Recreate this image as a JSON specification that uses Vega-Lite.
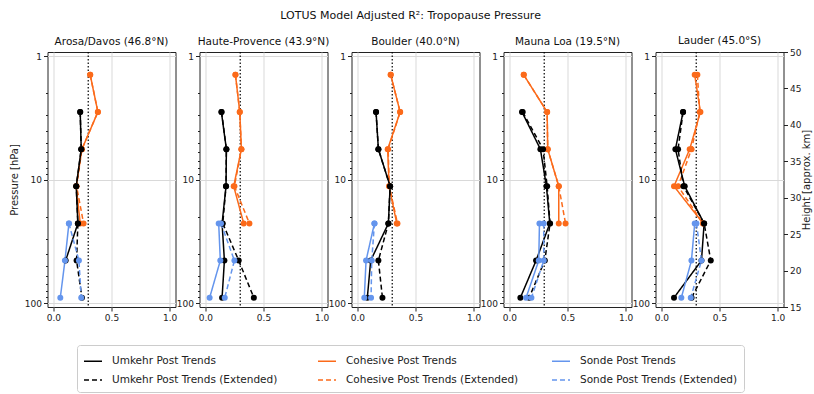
{
  "$schema": "https://vega.github.io/schema/vega-lite/v6.json",
  "background": "white",
  "padding": {"left": 8.5, "top": 9, "right": 5, "bottom": 5},
  "title": {"text": "LOTUS Model Adjusted R²: Tropopause Pressure", "fontSize": 11, "font": "DejaVu Sans", "fontWeight": "normal", "anchor": "middle", "offset": 15, "color": "#111"},
  "config": {
    "font": "DejaVu Sans",
    "view": {"stroke": "#222", "strokeWidth": 1},
    "axis": {"domain": false, "labelFont": "DejaVu Sans", "labelFontSize": 9, "labelColor": "#222", "tickColor": "#222", "titleFont": "DejaVu Sans", "titleFontSize": 10, "titleFontWeight": "normal", "titleColor": "#222", "gridColor": "#d9d9d9", "gridWidth": 1},
    "title": {"font": "DejaVu Sans", "fontSize": 10.5, "fontWeight": "normal", "color": "#111", "offset": 4},
    "legend": {"labelFont": "DejaVu Sans", "labelFontSize": 10.5, "labelColor": "#222"}
  },
  "datasets": {
    "d": [
      {"st": "A", "s": "Cohesive Post Trends", "p": 1.414, "x": 0.317},
      {"st": "A", "s": "Cohesive Post Trends", "p": 2.828, "x": 0.383},
      {"st": "A", "s": "Cohesive Post Trends", "p": 5.657, "x": 0.246},
      {"st": "A", "s": "Cohesive Post Trends", "p": 11.31, "x": 0.197},
      {"st": "A", "s": "Cohesive Post Trends", "p": 22.63, "x": 0.231},
      {"st": "A", "s": "Cohesive Post Trends (Extended)", "p": 1.414, "x": 0.317},
      {"st": "A", "s": "Cohesive Post Trends (Extended)", "p": 2.828, "x": 0.383},
      {"st": "A", "s": "Cohesive Post Trends (Extended)", "p": 5.657, "x": 0.246},
      {"st": "A", "s": "Cohesive Post Trends (Extended)", "p": 11.31, "x": 0.2},
      {"st": "A", "s": "Cohesive Post Trends (Extended)", "p": 22.63, "x": 0.26},
      {"st": "A", "s": "Umkehr Post Trends", "p": 2.828, "x": 0.231},
      {"st": "A", "s": "Umkehr Post Trends", "p": 5.657, "x": 0.24},
      {"st": "A", "s": "Umkehr Post Trends", "p": 11.31, "x": 0.197},
      {"st": "A", "s": "Umkehr Post Trends", "p": 22.63, "x": 0.211},
      {"st": "A", "s": "Umkehr Post Trends", "p": 45.25, "x": 0.106},
      {"st": "A", "s": "Umkehr Post Trends (Extended)", "p": 2.828, "x": 0.231},
      {"st": "A", "s": "Umkehr Post Trends (Extended)", "p": 5.657, "x": 0.24},
      {"st": "A", "s": "Umkehr Post Trends (Extended)", "p": 11.31, "x": 0.197},
      {"st": "A", "s": "Umkehr Post Trends (Extended)", "p": 22.63, "x": 0.211},
      {"st": "A", "s": "Umkehr Post Trends (Extended)", "p": 45.25, "x": 0.2},
      {"st": "A", "s": "Umkehr Post Trends (Extended)", "p": 90.51, "x": 0.246},
      {"st": "A", "s": "Sonde Post Trends", "p": 22.63, "x": 0.134},
      {"st": "A", "s": "Sonde Post Trends", "p": 45.25, "x": 0.1},
      {"st": "A", "s": "Sonde Post Trends", "p": 90.51, "x": 0.06},
      {"st": "A", "s": "Sonde Post Trends (Extended)", "p": 22.63, "x": 0.134},
      {"st": "A", "s": "Sonde Post Trends (Extended)", "p": 45.25, "x": 0.22},
      {"st": "A", "s": "Sonde Post Trends (Extended)", "p": 90.51, "x": 0.24},

      {"st": "H", "s": "Cohesive Post Trends", "p": 1.414, "x": 0.259},
      {"st": "H", "s": "Cohesive Post Trends", "p": 2.828, "x": 0.296},
      {"st": "H", "s": "Cohesive Post Trends", "p": 5.657, "x": 0.31},
      {"st": "H", "s": "Cohesive Post Trends", "p": 11.31, "x": 0.244},
      {"st": "H", "s": "Cohesive Post Trends", "p": 22.63, "x": 0.33},
      {"st": "H", "s": "Cohesive Post Trends (Extended)", "p": 1.414, "x": 0.259},
      {"st": "H", "s": "Cohesive Post Trends (Extended)", "p": 2.828, "x": 0.296},
      {"st": "H", "s": "Cohesive Post Trends (Extended)", "p": 5.657, "x": 0.31},
      {"st": "H", "s": "Cohesive Post Trends (Extended)", "p": 11.31, "x": 0.25},
      {"st": "H", "s": "Cohesive Post Trends (Extended)", "p": 22.63, "x": 0.379},
      {"st": "H", "s": "Umkehr Post Trends", "p": 2.828, "x": 0.138},
      {"st": "H", "s": "Umkehr Post Trends", "p": 5.657, "x": 0.181},
      {"st": "H", "s": "Umkehr Post Trends", "p": 11.31, "x": 0.178},
      {"st": "H", "s": "Umkehr Post Trends", "p": 22.63, "x": 0.144},
      {"st": "H", "s": "Umkehr Post Trends", "p": 45.25, "x": 0.164},
      {"st": "H", "s": "Umkehr Post Trends", "p": 90.51, "x": 0.144},
      {"st": "H", "s": "Umkehr Post Trends (Extended)", "p": 2.828, "x": 0.14},
      {"st": "H", "s": "Umkehr Post Trends (Extended)", "p": 5.657, "x": 0.181},
      {"st": "H", "s": "Umkehr Post Trends (Extended)", "p": 11.31, "x": 0.178},
      {"st": "H", "s": "Umkehr Post Trends (Extended)", "p": 22.63, "x": 0.15},
      {"st": "H", "s": "Umkehr Post Trends (Extended)", "p": 45.25, "x": 0.287},
      {"st": "H", "s": "Umkehr Post Trends (Extended)", "p": 90.51, "x": 0.417},
      {"st": "H", "s": "Sonde Post Trends", "p": 22.63, "x": 0.115},
      {"st": "H", "s": "Sonde Post Trends", "p": 45.25, "x": 0.129},
      {"st": "H", "s": "Sonde Post Trends", "p": 90.51, "x": 0.037},
      {"st": "H", "s": "Sonde Post Trends (Extended)", "p": 22.63, "x": 0.135},
      {"st": "H", "s": "Sonde Post Trends (Extended)", "p": 45.25, "x": 0.25},
      {"st": "H", "s": "Sonde Post Trends (Extended)", "p": 90.51, "x": 0.167},

      {"st": "B", "s": "Cohesive Post Trends", "p": 1.414, "x": 0.287},
      {"st": "B", "s": "Cohesive Post Trends", "p": 2.828, "x": 0.368},
      {"st": "B", "s": "Cohesive Post Trends", "p": 5.657, "x": 0.261},
      {"st": "B", "s": "Cohesive Post Trends", "p": 11.31, "x": 0.273},
      {"st": "B", "s": "Cohesive Post Trends", "p": 22.63, "x": 0.339},
      {"st": "B", "s": "Cohesive Post Trends (Extended)", "p": 1.414, "x": 0.287},
      {"st": "B", "s": "Cohesive Post Trends (Extended)", "p": 2.828, "x": 0.368},
      {"st": "B", "s": "Cohesive Post Trends (Extended)", "p": 5.657, "x": 0.265},
      {"st": "B", "s": "Cohesive Post Trends (Extended)", "p": 11.31, "x": 0.275},
      {"st": "B", "s": "Cohesive Post Trends (Extended)", "p": 22.63, "x": 0.345},
      {"st": "B", "s": "Umkehr Post Trends", "p": 2.828, "x": 0.161},
      {"st": "B", "s": "Umkehr Post Trends", "p": 5.657, "x": 0.181},
      {"st": "B", "s": "Umkehr Post Trends", "p": 11.31, "x": 0.282},
      {"st": "B", "s": "Umkehr Post Trends", "p": 22.63, "x": 0.267},
      {"st": "B", "s": "Umkehr Post Trends", "p": 45.25, "x": 0.115},
      {"st": "B", "s": "Umkehr Post Trends", "p": 90.51, "x": 0.086},
      {"st": "B", "s": "Umkehr Post Trends (Extended)", "p": 2.828, "x": 0.161},
      {"st": "B", "s": "Umkehr Post Trends (Extended)", "p": 5.657, "x": 0.181},
      {"st": "B", "s": "Umkehr Post Trends (Extended)", "p": 11.31, "x": 0.282},
      {"st": "B", "s": "Umkehr Post Trends (Extended)", "p": 22.63, "x": 0.267},
      {"st": "B", "s": "Umkehr Post Trends (Extended)", "p": 45.25, "x": 0.181},
      {"st": "B", "s": "Umkehr Post Trends (Extended)", "p": 90.51, "x": 0.216},
      {"st": "B", "s": "Sonde Post Trends", "p": 22.63, "x": 0.147},
      {"st": "B", "s": "Sonde Post Trends", "p": 45.25, "x": 0.075},
      {"st": "B", "s": "Sonde Post Trends", "p": 90.51, "x": 0.06},
      {"st": "B", "s": "Sonde Post Trends (Extended)", "p": 22.63, "x": 0.147},
      {"st": "B", "s": "Sonde Post Trends (Extended)", "p": 45.25, "x": 0.124},
      {"st": "B", "s": "Sonde Post Trends (Extended)", "p": 90.51, "x": 0.118},

      {"st": "M", "s": "Cohesive Post Trends", "p": 1.414, "x": 0.124},
      {"st": "M", "s": "Cohesive Post Trends", "p": 2.828, "x": 0.325},
      {"st": "M", "s": "Cohesive Post Trends", "p": 5.657, "x": 0.33},
      {"st": "M", "s": "Cohesive Post Trends", "p": 11.31, "x": 0.425},
      {"st": "M", "s": "Cohesive Post Trends", "p": 22.63, "x": 0.425},
      {"st": "M", "s": "Cohesive Post Trends (Extended)", "p": 1.414, "x": 0.124},
      {"st": "M", "s": "Cohesive Post Trends (Extended)", "p": 2.828, "x": 0.325},
      {"st": "M", "s": "Cohesive Post Trends (Extended)", "p": 5.657, "x": 0.33},
      {"st": "M", "s": "Cohesive Post Trends (Extended)", "p": 11.31, "x": 0.425},
      {"st": "M", "s": "Cohesive Post Trends (Extended)", "p": 22.63, "x": 0.483},
      {"st": "M", "s": "Umkehr Post Trends", "p": 2.828, "x": 0.109},
      {"st": "M", "s": "Umkehr Post Trends", "p": 5.657, "x": 0.267},
      {"st": "M", "s": "Umkehr Post Trends", "p": 11.31, "x": 0.319},
      {"st": "M", "s": "Umkehr Post Trends", "p": 22.63, "x": 0.348},
      {"st": "M", "s": "Umkehr Post Trends", "p": 45.25, "x": 0.23},
      {"st": "M", "s": "Umkehr Post Trends", "p": 90.51, "x": 0.095},
      {"st": "M", "s": "Umkehr Post Trends (Extended)", "p": 2.828, "x": 0.115},
      {"st": "M", "s": "Umkehr Post Trends (Extended)", "p": 5.657, "x": 0.29},
      {"st": "M", "s": "Umkehr Post Trends (Extended)", "p": 11.31, "x": 0.325},
      {"st": "M", "s": "Umkehr Post Trends (Extended)", "p": 22.63, "x": 0.35},
      {"st": "M", "s": "Umkehr Post Trends (Extended)", "p": 45.25, "x": 0.305},
      {"st": "M", "s": "Umkehr Post Trends (Extended)", "p": 90.51, "x": 0.17},
      {"st": "M", "s": "Sonde Post Trends", "p": 22.63, "x": 0.259},
      {"st": "M", "s": "Sonde Post Trends", "p": 45.25, "x": 0.253},
      {"st": "M", "s": "Sonde Post Trends", "p": 90.51, "x": 0.144},
      {"st": "M", "s": "Sonde Post Trends (Extended)", "p": 22.63, "x": 0.296},
      {"st": "M", "s": "Sonde Post Trends (Extended)", "p": 45.25, "x": 0.296},
      {"st": "M", "s": "Sonde Post Trends (Extended)", "p": 90.51, "x": 0.19},

      {"st": "L", "s": "Cohesive Post Trends", "p": 1.414, "x": 0.287},
      {"st": "L", "s": "Cohesive Post Trends", "p": 2.828, "x": 0.336},
      {"st": "L", "s": "Cohesive Post Trends", "p": 5.657, "x": 0.244},
      {"st": "L", "s": "Cohesive Post Trends", "p": 11.31, "x": 0.109},
      {"st": "L", "s": "Cohesive Post Trends", "p": 22.63, "x": 0.359},
      {"st": "L", "s": "Cohesive Post Trends (Extended)", "p": 1.414, "x": 0.31},
      {"st": "L", "s": "Cohesive Post Trends (Extended)", "p": 2.828, "x": 0.33},
      {"st": "L", "s": "Cohesive Post Trends (Extended)", "p": 5.657, "x": 0.26},
      {"st": "L", "s": "Cohesive Post Trends (Extended)", "p": 11.31, "x": 0.144},
      {"st": "L", "s": "Cohesive Post Trends (Extended)", "p": 22.63, "x": 0.359},
      {"st": "L", "s": "Umkehr Post Trends", "p": 2.828, "x": 0.187},
      {"st": "L", "s": "Umkehr Post Trends", "p": 5.657, "x": 0.121},
      {"st": "L", "s": "Umkehr Post Trends", "p": 11.31, "x": 0.201},
      {"st": "L", "s": "Umkehr Post Trends", "p": 22.63, "x": 0.368},
      {"st": "L", "s": "Umkehr Post Trends", "p": 45.25, "x": 0.345},
      {"st": "L", "s": "Umkehr Post Trends", "p": 90.51, "x": 0.109},
      {"st": "L", "s": "Umkehr Post Trends (Extended)", "p": 2.828, "x": 0.187},
      {"st": "L", "s": "Umkehr Post Trends (Extended)", "p": 5.657, "x": 0.144},
      {"st": "L", "s": "Umkehr Post Trends (Extended)", "p": 11.31, "x": 0.19},
      {"st": "L", "s": "Umkehr Post Trends (Extended)", "p": 22.63, "x": 0.368},
      {"st": "L", "s": "Umkehr Post Trends (Extended)", "p": 45.25, "x": 0.425},
      {"st": "L", "s": "Umkehr Post Trends (Extended)", "p": 90.51, "x": 0.26},
      {"st": "L", "s": "Sonde Post Trends", "p": 22.63, "x": 0.287},
      {"st": "L", "s": "Sonde Post Trends", "p": 45.25, "x": 0.259},
      {"st": "L", "s": "Sonde Post Trends", "p": 90.51, "x": 0.172},
      {"st": "L", "s": "Sonde Post Trends (Extended)", "p": 22.63, "x": 0.302},
      {"st": "L", "s": "Sonde Post Trends (Extended)", "p": 45.25, "x": 0.345},
      {"st": "L", "s": "Sonde Post Trends (Extended)", "p": 90.51, "x": 0.253}
    ]
  },
  "bounds": "flush",
  "spacing": 24,
  "resolve": {"scale": {"x": "independent", "y": "independent", "color": "shared", "strokeDash": "shared"}, "legend": {"color": "shared", "strokeDash": "shared"}},
  "hconcat": [
    {
      "width": 128, "height": 255,
      "title": "Arosa/Davos (46.8°N)",
      "layer": [
        {"data": {"values": [{"v": 0.3}]}, "mark": {"type": "rule", "color": "black", "strokeDash": [1.5, 2], "strokeWidth": 1.2}, "encoding": {"x": {"field": "v", "type": "quantitative", "scale": {"domain": [-0.05, 1.05], "nice": false, "zero": false}, "axis": {"values": [0, 0.5, 1], "format": ".1f", "title": null, "grid": true, "tickSize": 4, "labelPadding": 2}}}},
        {"data": {"name": "d"}, "transform": [{"filter": "datum.st == 'A'"}], "mark": {"type": "line", "strokeWidth": 1.5}, "encoding": {
          "x": {"field": "x", "type": "quantitative"},
          "y": {"field": "p", "type": "quantitative", "scale": {"type": "log", "domain": [0.923, 107.7], "reverse": true, "nice": false, "zero": false}, "axis": {"title": "Pressure [hPa]", "titlePadding": 5, "values": [1, 2, 3, 4, 5, 6, 7, 8, 9, 10, 20, 30, 40, 50, 60, 70, 80, 90, 100], "labelExpr": "indexof([1, 10, 100], datum.value) >= 0 ? toString(datum.value) : ''", "tickSize": {"condition": {"test": "indexof([1, 10, 100], datum.value) >= 0", "value": 4}, "value": 2}, "gridOpacity": {"condition": {"test": "indexof([1, 10, 100], datum.value) >= 0", "value": 1}, "value": 0}, "labelPadding": 2}},
          "order": {"field": "p", "type": "quantitative"},
          "color": {"field": "s", "type": "nominal", "scale": {"domain": ["Umkehr Post Trends", "Umkehr Post Trends (Extended)", "Cohesive Post Trends", "Cohesive Post Trends (Extended)", "Sonde Post Trends", "Sonde Post Trends (Extended)"], "range": ["#000000", "#000000", "#fb6a1a", "#fb6a1a", "#6495ed", "#6495ed"]},
            "legend": {"orient": "none", "legendX": 29.5, "legendY": 293, "direction": "vertical", "columns": 3, "gridAlign": "all", "columnPadding": 30, "rowPadding": 3, "padding": 6, "strokeColor": "#cccccc", "cornerRadius": 3, "fillColor": "white", "symbolType": "stroke", "symbolSize": 324, "symbolStrokeWidth": 1.5, "labelOffset": 9, "labelFontSize": 10.5, "labelLimit": 300, "title": null}},
          "strokeDash": {"field": "s", "type": "nominal", "scale": {"domain": ["Umkehr Post Trends", "Umkehr Post Trends (Extended)", "Cohesive Post Trends", "Cohesive Post Trends (Extended)", "Sonde Post Trends", "Sonde Post Trends (Extended)"], "range": [[1, 0], [5, 3], [1, 0], [5, 3], [1, 0], [5, 3]]},
            "legend": {"orient": "none", "legendX": 29.5, "legendY": 293, "direction": "vertical", "columns": 3, "gridAlign": "all", "columnPadding": 30, "rowPadding": 3, "padding": 6, "strokeColor": "#cccccc", "cornerRadius": 3, "fillColor": "white", "symbolType": "stroke", "symbolSize": 324, "symbolStrokeWidth": 1.5, "labelOffset": 9, "labelFontSize": 10.5, "labelLimit": 300, "title": null}}
        }},
        {"data": {"name": "d"}, "transform": [{"filter": "datum.st == 'A'"}], "mark": {"type": "point", "filled": true, "size": 36, "opacity": 1}, "encoding": {
          "x": {"field": "x", "type": "quantitative"},
          "y": {"field": "p", "type": "quantitative"},
          "color": {"field": "s", "type": "nominal", "legend": null}
        }}
      ]
    },
    {
      "width": 128, "height": 255,
      "title": "Haute-Provence (43.9°N)",
      "layer": [
        {"data": {"values": [{"v": 0.3}]}, "mark": {"type": "rule", "color": "black", "strokeDash": [1.5, 2], "strokeWidth": 1.2}, "encoding": {"x": {"field": "v", "type": "quantitative", "scale": {"domain": [-0.05, 1.05], "nice": false, "zero": false}, "axis": {"values": [0, 0.5, 1], "format": ".1f", "title": null, "grid": true, "tickSize": 4, "labelPadding": 2}}}},
        {"data": {"name": "d"}, "transform": [{"filter": "datum.st == 'H'"}], "mark": {"type": "line", "strokeWidth": 1.5}, "encoding": {
          "x": {"field": "x", "type": "quantitative"},
          "y": {"field": "p", "type": "quantitative", "scale": {"type": "log", "domain": [0.923, 107.7], "reverse": true, "nice": false, "zero": false}, "axis": {"title": null, "values": [1, 2, 3, 4, 5, 6, 7, 8, 9, 10, 20, 30, 40, 50, 60, 70, 80, 90, 100], "labelExpr": "indexof([1, 10, 100], datum.value) >= 0 ? toString(datum.value) : ''", "tickSize": {"condition": {"test": "indexof([1, 10, 100], datum.value) >= 0", "value": 4}, "value": 2}, "gridOpacity": {"condition": {"test": "indexof([1, 10, 100], datum.value) >= 0", "value": 1}, "value": 0}, "labelPadding": 2}},
          "order": {"field": "p", "type": "quantitative"},
          "color": {"field": "s", "type": "nominal"},
          "strokeDash": {"field": "s", "type": "nominal"}
        }},
        {"data": {"name": "d"}, "transform": [{"filter": "datum.st == 'H'"}], "mark": {"type": "point", "filled": true, "size": 36, "opacity": 1}, "encoding": {
          "x": {"field": "x", "type": "quantitative"},
          "y": {"field": "p", "type": "quantitative"},
          "color": {"field": "s", "type": "nominal", "legend": null}
        }}
      ]
    },
    {
      "width": 128, "height": 255,
      "title": "Boulder (40.0°N)",
      "layer": [
        {"data": {"values": [{"v": 0.3}]}, "mark": {"type": "rule", "color": "black", "strokeDash": [1.5, 2], "strokeWidth": 1.2}, "encoding": {"x": {"field": "v", "type": "quantitative", "scale": {"domain": [-0.05, 1.05], "nice": false, "zero": false}, "axis": {"values": [0, 0.5, 1], "format": ".1f", "title": null, "grid": true, "tickSize": 4, "labelPadding": 2}}}},
        {"data": {"name": "d"}, "transform": [{"filter": "datum.st == 'B'"}], "mark": {"type": "line", "strokeWidth": 1.5}, "encoding": {
          "x": {"field": "x", "type": "quantitative"},
          "y": {"field": "p", "type": "quantitative", "scale": {"type": "log", "domain": [0.923, 107.7], "reverse": true, "nice": false, "zero": false}, "axis": {"title": null, "values": [1, 2, 3, 4, 5, 6, 7, 8, 9, 10, 20, 30, 40, 50, 60, 70, 80, 90, 100], "labelExpr": "indexof([1, 10, 100], datum.value) >= 0 ? toString(datum.value) : ''", "tickSize": {"condition": {"test": "indexof([1, 10, 100], datum.value) >= 0", "value": 4}, "value": 2}, "gridOpacity": {"condition": {"test": "indexof([1, 10, 100], datum.value) >= 0", "value": 1}, "value": 0}, "labelPadding": 2}},
          "order": {"field": "p", "type": "quantitative"},
          "color": {"field": "s", "type": "nominal"},
          "strokeDash": {"field": "s", "type": "nominal"}
        }},
        {"data": {"name": "d"}, "transform": [{"filter": "datum.st == 'B'"}], "mark": {"type": "point", "filled": true, "size": 36, "opacity": 1}, "encoding": {
          "x": {"field": "x", "type": "quantitative"},
          "y": {"field": "p", "type": "quantitative"},
          "color": {"field": "s", "type": "nominal", "legend": null}
        }}
      ]
    },
    {
      "width": 128, "height": 255,
      "title": "Mauna Loa (19.5°N)",
      "layer": [
        {"data": {"values": [{"v": 0.3}]}, "mark": {"type": "rule", "color": "black", "strokeDash": [1.5, 2], "strokeWidth": 1.2}, "encoding": {"x": {"field": "v", "type": "quantitative", "scale": {"domain": [-0.05, 1.05], "nice": false, "zero": false}, "axis": {"values": [0, 0.5, 1], "format": ".1f", "title": null, "grid": true, "tickSize": 4, "labelPadding": 2}}}},
        {"data": {"name": "d"}, "transform": [{"filter": "datum.st == 'M'"}], "mark": {"type": "line", "strokeWidth": 1.5}, "encoding": {
          "x": {"field": "x", "type": "quantitative"},
          "y": {"field": "p", "type": "quantitative", "scale": {"type": "log", "domain": [0.923, 107.7], "reverse": true, "nice": false, "zero": false}, "axis": {"title": null, "values": [1, 2, 3, 4, 5, 6, 7, 8, 9, 10, 20, 30, 40, 50, 60, 70, 80, 90, 100], "labelExpr": "indexof([1, 10, 100], datum.value) >= 0 ? toString(datum.value) : ''", "tickSize": {"condition": {"test": "indexof([1, 10, 100], datum.value) >= 0", "value": 4}, "value": 2}, "gridOpacity": {"condition": {"test": "indexof([1, 10, 100], datum.value) >= 0", "value": 1}, "value": 0}, "labelPadding": 2}},
          "order": {"field": "p", "type": "quantitative"},
          "color": {"field": "s", "type": "nominal"},
          "strokeDash": {"field": "s", "type": "nominal"}
        }},
        {"data": {"name": "d"}, "transform": [{"filter": "datum.st == 'M'"}], "mark": {"type": "point", "filled": true, "size": 36, "opacity": 1}, "encoding": {
          "x": {"field": "x", "type": "quantitative"},
          "y": {"field": "p", "type": "quantitative"},
          "color": {"field": "s", "type": "nominal", "legend": null}
        }}
      ]
    },
    {
      "width": 128, "height": 255,
      "title": {"text": "Lauder (45.0°S)", "offset": 1.5},
      "resolve": {"scale": {"y": "independent"}},
      "layer": [
        {
          "layer": [
            {"data": {"values": [{"v": 0.3}]}, "mark": {"type": "rule", "color": "black", "strokeDash": [1.5, 2], "strokeWidth": 1.2}, "encoding": {"x": {"field": "v", "type": "quantitative", "scale": {"domain": [-0.05, 1.05], "nice": false, "zero": false}, "axis": {"values": [0, 0.5, 1], "format": ".1f", "title": null, "grid": true, "tickSize": 4, "labelPadding": 2}}}},
            {"data": {"name": "d"}, "transform": [{"filter": "datum.st == 'L'"}], "mark": {"type": "line", "strokeWidth": 1.5}, "encoding": {
              "x": {"field": "x", "type": "quantitative"},
              "y": {"field": "p", "type": "quantitative", "scale": {"type": "log", "domain": [0.923, 107.7], "reverse": true, "nice": false, "zero": false}, "axis": {"title": null, "orient": "left", "values": [1, 2, 3, 4, 5, 6, 7, 8, 9, 10, 20, 30, 40, 50, 60, 70, 80, 90, 100], "labelExpr": "indexof([1, 10, 100], datum.value) >= 0 ? toString(datum.value) : ''", "tickSize": {"condition": {"test": "indexof([1, 10, 100], datum.value) >= 0", "value": 4}, "value": 2}, "gridOpacity": {"condition": {"test": "indexof([1, 10, 100], datum.value) >= 0", "value": 1}, "value": 0}, "labelPadding": 2}},
              "order": {"field": "p", "type": "quantitative"},
              "color": {"field": "s", "type": "nominal"},
              "strokeDash": {"field": "s", "type": "nominal"}
            }},
            {"data": {"name": "d"}, "transform": [{"filter": "datum.st == 'L'"}], "mark": {"type": "point", "filled": true, "size": 36, "opacity": 1}, "encoding": {
              "x": {"field": "x", "type": "quantitative"},
              "y": {"field": "p", "type": "quantitative"},
              "color": {"field": "s", "type": "nominal", "legend": null}
            }}
          ]
        },
        {"data": {"values": [{"h": 15}, {"h": 50}]}, "mark": {"type": "point", "opacity": 0}, "encoding": {
          "y": {"field": "h", "type": "quantitative", "scale": {"domain": [15, 50], "nice": false, "zero": false}, "axis": {"orient": "right", "values": [15, 20, 25, 30, 35, 40, 45, 50], "title": "Height [approx. km]", "titleAngle": 270, "titleBaseline": "top", "grid": false, "tickSize": 4, "labelPadding": 2, "titlePadding": 1}}
        }}
      ]
    }
  ]
}
